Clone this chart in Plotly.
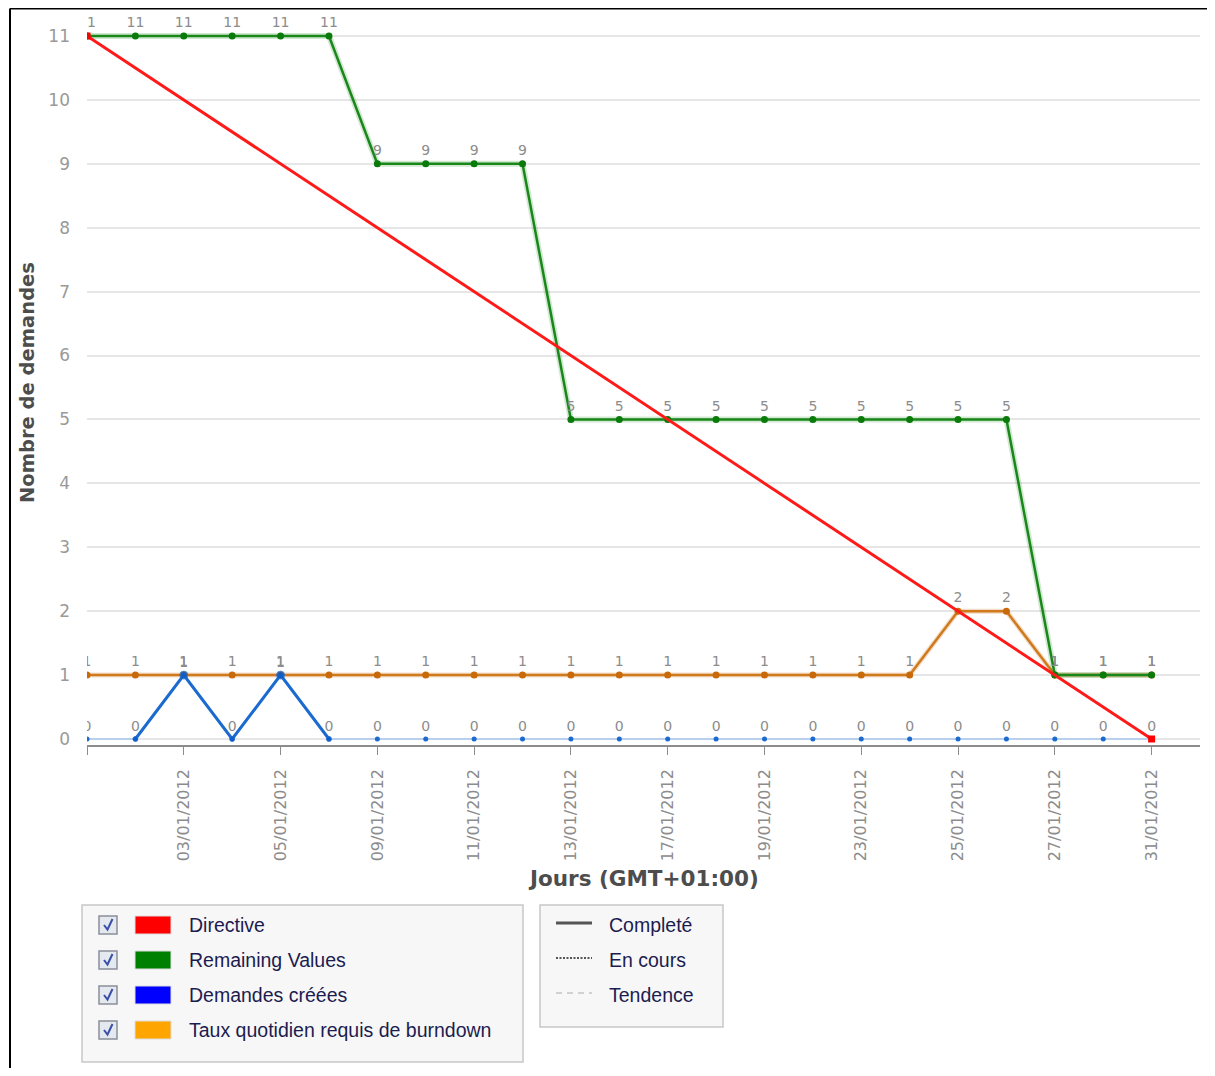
import plotly.graph_objects as go

# jours du sprint (index 0 = début)
days = ["01/01/2012", "02/01/2012", "03/01/2012", "04/01/2012", "05/01/2012", "06/01/2012",
        "09/01/2012", "10/01/2012", "11/01/2012", "12/01/2012", "13/01/2012", "16/01/2012",
        "17/01/2012", "18/01/2012", "19/01/2012", "20/01/2012", "23/01/2012", "24/01/2012",
        "25/01/2012", "26/01/2012", "27/01/2012", "30/01/2012", "31/01/2012"]
remaining = [11, 11, 11, 11, 11, 11, 9, 9, 9, 9, 5, 5, 5, 5, 5, 5, 5, 5, 5, 5, 1, 1, 1]
daily_rate = [1, 1, 1, 1, 1, 1, 1, 1, 1, 1, 1, 1, 1, 1, 1, 1, 1, 1, 2, 2, 1, 1, 1]
created = [0, 0, 1, 0, 1, 0, 0, 0, 0, 0, 0, 0, 0, 0, 0, 0, 0, 0, 0, 0, 0, 0, 0]
directive_days = ["01/01/2012", "31/01/2012"]
directive = [11, 0]

series_legend = ["Directive", "Remaining Values", "Demandes créées", "Taux quotidien requis de burndown"]
series_colors = ["#ff0000", "#008000", "#0000ff", "#ffa500"]
style_legend = ["Completé", "En cours", "Tendence"]

# la page a une marge de 8px: la figure commence à (8, 8) dans l'écran
OFF = 8
W, H = 1215 - 2 * OFF, 1076 - 2 * OFF
L, R, T, B = 87, 1200, 8, 745  # zone de tracé, pixels écran

def px(x):
    return (x - L) / (R - L)

def py(y):
    return (B - y) / (B - T)

x = list(range(len(days)))
label_font = dict(family="DejaVu Sans", size=14, color="#8c8c8c")

fig = go.Figure()

# Taux quotidien requis
fig.add_trace(go.Scatter(x=x, y=daily_rate, mode="lines", line=dict(color="rgba(210,120,30,0.25)", width=5),
                         hoverinfo="skip", showlegend=False))
fig.add_trace(go.Scatter(x=x, y=daily_rate, mode="lines+markers+text", text=[str(v) for v in daily_rate],
                         textposition="top center", textfont=label_font,
                         line=dict(color="#d07a1e", width=2.5), marker=dict(color="#c86a0a", size=7),
                         name="Taux quotidien requis de burndown", showlegend=False))

# Demandes créées: ligne fine sur toute la période, épaisse là où ça bouge
fig.add_trace(go.Scatter(x=x, y=created, mode="lines+markers+text", text=[str(v) for v in created],
                         textposition="top center", textfont=label_font,
                         line=dict(color="#a9c9ef", width=1.5), marker=dict(color="#1a6ad0", size=5),
                         name="Demandes créées", showlegend=False))
fig.add_trace(go.Scatter(x=x[1:6], y=created[1:6], mode="lines+markers",
                         line=dict(color="#1a6ad0", width=3), marker=dict(color="#0a5ac8", size=[5, 8, 5, 8, 5]),
                         hoverinfo="skip", showlegend=False))

# Remaining Values (halo + ligne)
fig.add_trace(go.Scatter(x=x, y=remaining, mode="lines", line=dict(color="rgba(0,128,0,0.18)", width=6),
                         hoverinfo="skip", showlegend=False))
fig.add_trace(go.Scatter(x=x, y=remaining, mode="lines+markers+text", text=[str(v) for v in remaining],
                         textposition="top center", textfont=label_font,
                         line=dict(color="#1a871a", width=2.5), marker=dict(color="#0a7a0a", size=7),
                         name="Remaining Values", showlegend=False))

# Directive
fig.add_trace(go.Scatter(x=[days.index(d) for d in directive_days], y=directive, mode="lines+markers",
                         line=dict(color="#ff1a1a", width=3),
                         marker=dict(color="#ff0000", size=7, symbol="square"),
                         name="Directive", showlegend=False))

tickvals = list(range(0, len(days), 2))
ticktext = [""] + [days[i] for i in tickvals[1:]]

fig.update_layout(
    width=W, height=H,
    margin=dict(l=L - OFF, r=W - (R - OFF), t=T - OFF, b=H - (B - OFF), pad=0),
    paper_bgcolor="white", plot_bgcolor="white",
    font=dict(family="DejaVu Sans"),
    xaxis=dict(range=[0, 23], tickvals=tickvals, ticktext=ticktext, tickangle=-90,
               showgrid=False, zeroline=False, showline=True, linecolor="#8c8c8c", linewidth=1.5,
               ticks="outside", ticklen=8, tickcolor="#8c8c8c", ticklabelstandoff=8,
               tickfont=dict(family="DejaVu Sans", size=16, color="#8c8c8c")),
    yaxis=dict(range=[-0.094, 11.438], tickvals=list(range(12)), showgrid=True, gridcolor="#e6e6e6",
               gridwidth=1.5, zeroline=False, showline=False, ticks="",
               tickfont=dict(family="DejaVu Sans", size=17, color="#999999"), ticklabelstandoff=16),
)

shapes = []
annotations = []

def box(x0, y0, x1, y1, fill, line_col, lw):
    shapes.append(dict(type="rect", xref="paper", yref="paper", x0=px(x0), x1=px(x1), y0=py(y0), y1=py(y1),
                       fillcolor=fill, line=dict(color=line_col, width=lw)))

def text(s, x0, y0, font, xanchor="left", angle=0):
    annotations.append(dict(text=s, xref="paper", yref="paper", x=px(x0), y=py(y0), xanchor=xanchor,
                            yanchor="middle", showarrow=False, textangle=angle, font=font))

# cadre noir (haut et gauche)
shapes.append(dict(type="line", xref="paper", yref="paper", x0=px(10), x1=px(1215), y0=py(8.5), y1=py(8.5),
                   line=dict(color="black", width=2)))
shapes.append(dict(type="line", xref="paper", yref="paper", x0=px(10), x1=px(10), y0=py(8.5), y1=py(1076),
                   line=dict(color="black", width=2)))

# titres des axes
text("<b>Nombre de demandes</b>", 27, 383, dict(family="DejaVu Sans", size=19.5, color="#4d4d4d"), "center", -90)
text("<b>Jours (GMT+01:00)</b>", 643, 878, dict(family="DejaVu Sans", size=21.5, color="#4d4d4d"), "center")

# boîte de légende des séries
legend_font = dict(family="Liberation Sans", size=19.5, color="#1c1c50")
box(82, 905, 523, 1062, "#f7f7f7", "#c8c8c8", 1.5)
for i, (name, col) in enumerate(zip(series_legend, series_colors)):
    cy = 925 + 35 * i
    box(99, cy - 9, 117, cy + 9, "#e4e8ef", "#8a8f9a", 1.5)
    path = "M{},{} L{},{} L{},{}".format(px(104), py(cy), px(107.5), py(cy + 4.5), px(112.5), py(cy - 6))
    shapes.append(dict(type="path", xref="paper", yref="paper", path=path, line=dict(color="#3a50a8", width=2)))
    box(135, cy - 9, 171, cy + 9, col, "#dddddd", 1)
    text(name, 187, cy, legend_font)

# boîte de légende des styles
box(540, 905, 723, 1027, "#f7f7f7", "#c8c8c8", 1.5)
style_lines = [dict(color="#555555", width=3, dash="solid"),
               dict(color="#555555", width=2, dash="2px,1.5px"),
               dict(color="#aaaaaa", width=1, dash="6px,5px")]
for i, (name, ls) in enumerate(zip(style_legend, style_lines)):
    cy = 925 + 35 * i
    shapes.append(dict(type="line", xref="paper", yref="paper", x0=px(556), x1=px(592), y0=py(cy - 2),
                       y1=py(cy - 2), line=ls))
    text(name, 607, cy, legend_font)

fig.update_layout(shapes=shapes, annotations=annotations)

fig.write_html("out.html")
